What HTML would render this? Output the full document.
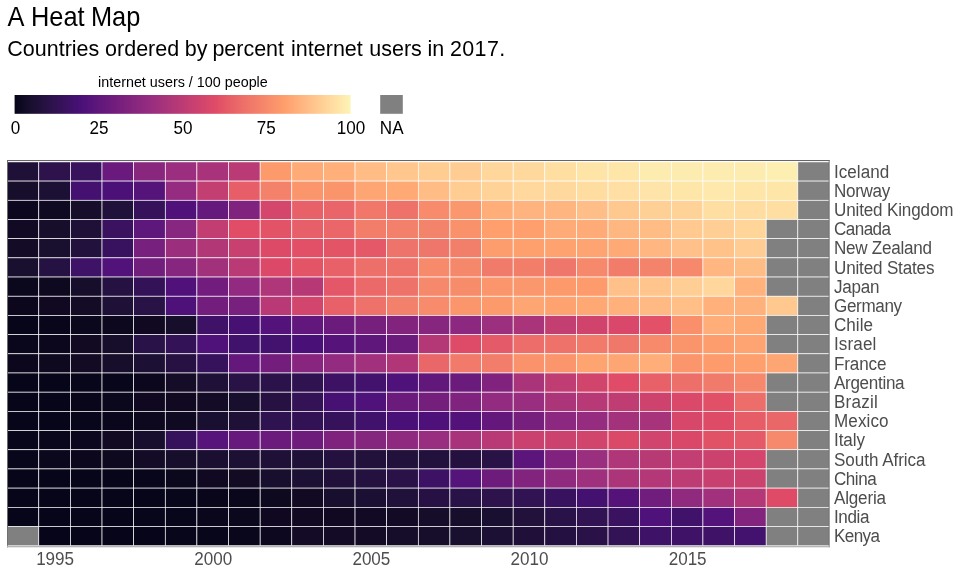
<!DOCTYPE html>
<html><head><meta charset="utf-8"><title>A Heat Map</title>
<style>
html,body{margin:0;padding:0;background:#fff;}
body{width:960px;height:576px;overflow:hidden;}
svg{display:block;}
text{font-family:"Liberation Sans",sans-serif;}
</style></head><body>
<svg width="960" height="576" viewBox="0 0 960 576">
<rect x="0" y="0" width="960" height="576" fill="#ffffff"/>
<text transform="translate(0,25.9) scale(1,1.055)" font-size="25.4px" fill="#000"><tspan x="7.5">A</tspan> <tspan x="31">Heat</tspan> <tspan x="90.9">Map</tspan></text>
<text transform="translate(0,55.6) scale(1,1.055)" font-size="21.5px" fill="#000"><tspan x="7.33">Countries</tspan> <tspan x="105.1">ordered</tspan> <tspan x="184.7">by</tspan> <tspan x="212.4">percent</tspan> <tspan x="291.1">internet</tspan> <tspan x="369.3">users</tspan> <tspan x="427.4">in</tspan> <tspan x="449.9" textLength="55.4" lengthAdjust="spacing">2017.</tspan></text>
<text transform="translate(182.90,86.60) scale(1,1.04)" font-size="14.35px" fill="#000" text-anchor="middle">internet users / 100 people</text>
<defs><linearGradient id="g" x1="0" x2="1" y1="0" y2="0"><stop offset="0.0000" stop-color="#06051a"/><stop offset="0.0500" stop-color="#190f2f"/><stop offset="0.1000" stop-color="#291246"/><stop offset="0.1500" stop-color="#39125f"/><stop offset="0.2000" stop-color="#4a1079"/><stop offset="0.2500" stop-color="#5f177b"/><stop offset="0.3000" stop-color="#721d7d"/><stop offset="0.3500" stop-color="#84257e"/><stop offset="0.4000" stop-color="#962c80"/><stop offset="0.4500" stop-color="#a9347a"/><stop offset="0.5000" stop-color="#bc3b74"/><stop offset="0.5500" stop-color="#ce436e"/><stop offset="0.6000" stop-color="#e04c67"/><stop offset="0.6500" stop-color="#e86268"/><stop offset="0.7000" stop-color="#f0776a"/><stop offset="0.7500" stop-color="#f78a6b"/><stop offset="0.8000" stop-color="#fe9d6c"/><stop offset="0.8500" stop-color="#ffb37e"/><stop offset="0.9000" stop-color="#ffc990"/><stop offset="0.9500" stop-color="#ffdea3"/><stop offset="1.0000" stop-color="#fcf4b6"/></linearGradient></defs>
<rect x="14.6" y="95" width="336" height="18.8" fill="url(#g)"/>
<rect x="380.2" y="95" width="22.6" height="18.8" fill="#808080"/>
<text transform="translate(15.60,133.90) scale(1,1.055)" font-size="17.07px" fill="#000" text-anchor="middle">0</text>
<text transform="translate(99.10,133.90) scale(1,1.055)" font-size="17.07px" fill="#000" text-anchor="middle">25</text>
<text transform="translate(183.10,133.90) scale(1,1.055)" font-size="17.07px" fill="#000" text-anchor="middle">50</text>
<text transform="translate(266.30,133.90) scale(1,1.055)" font-size="17.07px" fill="#000" text-anchor="middle">75</text>
<text transform="translate(351.00,133.90) scale(1,1.055)" font-size="17.07px" fill="#000" text-anchor="middle">100</text>
<text transform="translate(391.70,133.90) scale(1,1.055)" font-size="17.07px" fill="#000" text-anchor="middle">NA</text>
<rect x="7" y="160" width="822.5" height="387.4" fill="#ffffff"/>
<g stroke="#ffffff" stroke-width="0.65">
<rect x="7.15" y="161.90" width="31.63" height="19.19" fill="#1f1037"/><rect x="38.78" y="161.90" width="31.63" height="19.19" fill="#2d124c"/><rect x="70.40" y="161.90" width="31.63" height="19.19" fill="#39125e"/><rect x="102.03" y="161.90" width="31.63" height="19.19" fill="#691a7c"/><rect x="133.66" y="161.90" width="31.63" height="19.19" fill="#89277f"/><rect x="165.28" y="161.90" width="31.63" height="19.19" fill="#9b2e7f"/><rect x="196.91" y="161.90" width="31.63" height="19.19" fill="#a8337b"/><rect x="228.54" y="161.90" width="31.63" height="19.19" fill="#ba3a75"/><rect x="260.17" y="161.90" width="31.63" height="19.19" fill="#fc9a6c"/><rect x="291.79" y="161.90" width="31.63" height="19.19" fill="#ffab77"/><rect x="323.42" y="161.90" width="31.63" height="19.19" fill="#ffaf7a"/><rect x="355.05" y="161.90" width="31.63" height="19.19" fill="#ffbc85"/><rect x="386.67" y="161.90" width="31.63" height="19.19" fill="#ffc78e"/><rect x="418.30" y="161.90" width="31.63" height="19.19" fill="#ffcc92"/><rect x="449.93" y="161.90" width="31.63" height="19.19" fill="#ffcd94"/><rect x="481.55" y="161.90" width="31.63" height="19.19" fill="#ffd69b"/><rect x="513.18" y="161.90" width="31.63" height="19.19" fill="#ffd89d"/><rect x="544.81" y="161.90" width="31.63" height="19.19" fill="#ffdea2"/><rect x="576.43" y="161.90" width="31.63" height="19.19" fill="#fee4a7"/><rect x="608.06" y="161.90" width="31.63" height="19.19" fill="#fee5a8"/><rect x="639.69" y="161.90" width="31.63" height="19.19" fill="#fdecaf"/><rect x="671.32" y="161.90" width="31.63" height="19.19" fill="#fdecaf"/><rect x="702.94" y="161.90" width="31.63" height="19.19" fill="#fdecaf"/><rect x="734.57" y="161.90" width="31.63" height="19.19" fill="#fdecaf"/><rect x="766.20" y="161.90" width="31.63" height="19.19" fill="#fdefb2"/><rect x="797.82" y="161.90" width="31.63" height="19.19" fill="#808080"/>
<rect x="7.15" y="181.09" width="31.63" height="19.19" fill="#170e2b"/><rect x="38.78" y="181.09" width="31.63" height="19.19" fill="#1d1035"/><rect x="70.40" y="181.09" width="31.63" height="19.19" fill="#441170"/><rect x="102.03" y="181.09" width="31.63" height="19.19" fill="#4c1179"/><rect x="133.66" y="181.09" width="31.63" height="19.19" fill="#55147a"/><rect x="165.28" y="181.09" width="31.63" height="19.19" fill="#962c80"/><rect x="196.91" y="181.09" width="31.63" height="19.19" fill="#c33e71"/><rect x="228.54" y="181.09" width="31.63" height="19.19" fill="#e75e68"/><rect x="260.17" y="181.09" width="31.63" height="19.19" fill="#f4826b"/><rect x="291.79" y="181.09" width="31.63" height="19.19" fill="#fb966c"/><rect x="323.42" y="181.09" width="31.63" height="19.19" fill="#fa956b"/><rect x="355.05" y="181.09" width="31.63" height="19.19" fill="#fea673"/><rect x="386.67" y="181.09" width="31.63" height="19.19" fill="#ffa975"/><rect x="418.30" y="181.09" width="31.63" height="19.19" fill="#ffbc85"/><rect x="449.93" y="181.09" width="31.63" height="19.19" fill="#ffcc92"/><rect x="481.55" y="181.09" width="31.63" height="19.19" fill="#ffd298"/><rect x="513.18" y="181.09" width="31.63" height="19.19" fill="#ffd89d"/><rect x="544.81" y="181.09" width="31.63" height="19.19" fill="#ffd89d"/><rect x="576.43" y="181.09" width="31.63" height="19.19" fill="#ffdda1"/><rect x="608.06" y="181.09" width="31.63" height="19.19" fill="#ffdfa3"/><rect x="639.69" y="181.09" width="31.63" height="19.19" fill="#fee4a8"/><rect x="671.32" y="181.09" width="31.63" height="19.19" fill="#fee6a9"/><rect x="702.94" y="181.09" width="31.63" height="19.19" fill="#fee8ab"/><rect x="734.57" y="181.09" width="31.63" height="19.19" fill="#fee5a8"/><rect x="766.20" y="181.09" width="31.63" height="19.19" fill="#fee5a8"/><rect x="797.82" y="181.09" width="31.63" height="19.19" fill="#808080"/>
<rect x="7.15" y="200.28" width="31.63" height="19.19" fill="#0c071e"/><rect x="38.78" y="200.28" width="31.63" height="19.19" fill="#100922"/><rect x="70.40" y="200.28" width="31.63" height="19.19" fill="#170e2b"/><rect x="102.03" y="200.28" width="31.63" height="19.19" fill="#20113a"/><rect x="133.66" y="200.28" width="31.63" height="19.19" fill="#351259"/><rect x="165.28" y="200.28" width="31.63" height="19.19" fill="#50127a"/><rect x="196.91" y="200.28" width="31.63" height="19.19" fill="#66197c"/><rect x="228.54" y="200.28" width="31.63" height="19.19" fill="#7f237e"/><rect x="260.17" y="200.28" width="31.63" height="19.19" fill="#d4466c"/><rect x="291.79" y="200.28" width="31.63" height="19.19" fill="#e86168"/><rect x="323.42" y="200.28" width="31.63" height="19.19" fill="#e96569"/><rect x="355.05" y="200.28" width="31.63" height="19.19" fill="#f0776a"/><rect x="386.67" y="200.28" width="31.63" height="19.19" fill="#ee726a"/><rect x="418.30" y="200.28" width="31.63" height="19.19" fill="#f78b6b"/><rect x="449.93" y="200.28" width="31.63" height="19.19" fill="#fb976c"/><rect x="481.55" y="200.28" width="31.63" height="19.19" fill="#ffad79"/><rect x="513.18" y="200.28" width="31.63" height="19.19" fill="#ffb37e"/><rect x="544.81" y="200.28" width="31.63" height="19.19" fill="#ffb57f"/><rect x="576.43" y="200.28" width="31.63" height="19.19" fill="#ffbe87"/><rect x="608.06" y="200.28" width="31.63" height="19.19" fill="#ffc88f"/><rect x="639.69" y="200.28" width="31.63" height="19.19" fill="#ffd096"/><rect x="671.32" y="200.28" width="31.63" height="19.19" fill="#ffd297"/><rect x="702.94" y="200.28" width="31.63" height="19.19" fill="#ffdea2"/><rect x="734.57" y="200.28" width="31.63" height="19.19" fill="#ffdda1"/><rect x="766.20" y="200.28" width="31.63" height="19.19" fill="#ffdea2"/><rect x="797.82" y="200.28" width="31.63" height="19.19" fill="#808080"/>
<rect x="7.15" y="219.47" width="31.63" height="19.19" fill="#120a24"/><rect x="38.78" y="219.47" width="31.63" height="19.19" fill="#170e2b"/><rect x="70.40" y="219.47" width="31.63" height="19.19" fill="#1f1037"/><rect x="102.03" y="219.47" width="31.63" height="19.19" fill="#3a1260"/><rect x="133.66" y="219.47" width="31.63" height="19.19" fill="#5e177b"/><rect x="165.28" y="219.47" width="31.63" height="19.19" fill="#88277f"/><rect x="196.91" y="219.47" width="31.63" height="19.19" fill="#c13d72"/><rect x="228.54" y="219.47" width="31.63" height="19.19" fill="#e14c67"/><rect x="260.17" y="219.47" width="31.63" height="19.19" fill="#e35367"/><rect x="291.79" y="219.47" width="31.63" height="19.19" fill="#e75f68"/><rect x="323.42" y="219.47" width="31.63" height="19.19" fill="#ea6669"/><rect x="355.05" y="219.47" width="31.63" height="19.19" fill="#f27e6a"/><rect x="386.67" y="219.47" width="31.63" height="19.19" fill="#f3806a"/><rect x="418.30" y="219.47" width="31.63" height="19.19" fill="#f4836b"/><rect x="449.93" y="219.47" width="31.63" height="19.19" fill="#f9916b"/><rect x="481.55" y="219.47" width="31.63" height="19.19" fill="#fe9f6d"/><rect x="513.18" y="219.47" width="31.63" height="19.19" fill="#fe9f6d"/><rect x="544.81" y="219.47" width="31.63" height="19.19" fill="#ffab77"/><rect x="576.43" y="219.47" width="31.63" height="19.19" fill="#ffab77"/><rect x="608.06" y="219.47" width="31.63" height="19.19" fill="#ffb781"/><rect x="639.69" y="219.47" width="31.63" height="19.19" fill="#ffbd85"/><rect x="671.32" y="219.47" width="31.63" height="19.19" fill="#ffc990"/><rect x="702.94" y="219.47" width="31.63" height="19.19" fill="#ffce94"/><rect x="734.57" y="219.47" width="31.63" height="19.19" fill="#ffd59a"/><rect x="766.20" y="219.47" width="31.63" height="19.19" fill="#808080"/><rect x="797.82" y="219.47" width="31.63" height="19.19" fill="#808080"/>
<rect x="7.15" y="238.66" width="31.63" height="19.19" fill="#140c27"/><rect x="38.78" y="238.66" width="31.63" height="19.19" fill="#190f2f"/><rect x="70.40" y="238.66" width="31.63" height="19.19" fill="#23113d"/><rect x="102.03" y="238.66" width="31.63" height="19.19" fill="#38125e"/><rect x="133.66" y="238.66" width="31.63" height="19.19" fill="#78207d"/><rect x="165.28" y="238.66" width="31.63" height="19.19" fill="#9c2e7e"/><rect x="196.91" y="238.66" width="31.63" height="19.19" fill="#b23777"/><rect x="228.54" y="238.66" width="31.63" height="19.19" fill="#c84070"/><rect x="260.17" y="238.66" width="31.63" height="19.19" fill="#dd4a68"/><rect x="291.79" y="238.66" width="31.63" height="19.19" fill="#e25067"/><rect x="323.42" y="238.66" width="31.63" height="19.19" fill="#e35467"/><rect x="355.05" y="238.66" width="31.63" height="19.19" fill="#e55868"/><rect x="386.67" y="238.66" width="31.63" height="19.19" fill="#ee736a"/><rect x="418.30" y="238.66" width="31.63" height="19.19" fill="#ef766a"/><rect x="449.93" y="238.66" width="31.63" height="19.19" fill="#f27f6a"/><rect x="481.55" y="238.66" width="31.63" height="19.19" fill="#fd9c6c"/><rect x="513.18" y="238.66" width="31.63" height="19.19" fill="#fea06e"/><rect x="544.81" y="238.66" width="31.63" height="19.19" fill="#fea370"/><rect x="576.43" y="238.66" width="31.63" height="19.19" fill="#fea472"/><rect x="608.06" y="238.66" width="31.63" height="19.19" fill="#ffaa76"/><rect x="639.69" y="238.66" width="31.63" height="19.19" fill="#ffb680"/><rect x="671.32" y="238.66" width="31.63" height="19.19" fill="#ffc189"/><rect x="702.94" y="238.66" width="31.63" height="19.19" fill="#ffc38a"/><rect x="734.57" y="238.66" width="31.63" height="19.19" fill="#ffcc93"/><rect x="766.20" y="238.66" width="31.63" height="19.19" fill="#808080"/><rect x="797.82" y="238.66" width="31.63" height="19.19" fill="#808080"/>
<rect x="7.15" y="257.85" width="31.63" height="19.19" fill="#190f2f"/><rect x="38.78" y="257.85" width="31.63" height="19.19" fill="#261143"/><rect x="70.40" y="257.85" width="31.63" height="19.19" fill="#3e1266"/><rect x="102.03" y="257.85" width="31.63" height="19.19" fill="#51127a"/><rect x="133.66" y="257.85" width="31.63" height="19.19" fill="#721e7d"/><rect x="165.28" y="257.85" width="31.63" height="19.19" fill="#87267f"/><rect x="196.91" y="257.85" width="31.63" height="19.19" fill="#a2317c"/><rect x="228.54" y="257.85" width="31.63" height="19.19" fill="#b93a75"/><rect x="260.17" y="257.85" width="31.63" height="19.19" fill="#dc4968"/><rect x="291.79" y="257.85" width="31.63" height="19.19" fill="#e35467"/><rect x="323.42" y="257.85" width="31.63" height="19.19" fill="#e86168"/><rect x="355.05" y="257.85" width="31.63" height="19.19" fill="#ed6f69"/><rect x="386.67" y="257.85" width="31.63" height="19.19" fill="#ee726a"/><rect x="418.30" y="257.85" width="31.63" height="19.19" fill="#f78a6b"/><rect x="449.93" y="257.85" width="31.63" height="19.19" fill="#f5876b"/><rect x="481.55" y="257.85" width="31.63" height="19.19" fill="#f17b6a"/><rect x="513.18" y="257.85" width="31.63" height="19.19" fill="#f27e6a"/><rect x="544.81" y="257.85" width="31.63" height="19.19" fill="#ef766a"/><rect x="576.43" y="257.85" width="31.63" height="19.19" fill="#f6896b"/><rect x="608.06" y="257.85" width="31.63" height="19.19" fill="#f27c6a"/><rect x="639.69" y="257.85" width="31.63" height="19.19" fill="#f4836b"/><rect x="671.32" y="257.85" width="31.63" height="19.19" fill="#f6896b"/><rect x="702.94" y="257.85" width="31.63" height="19.19" fill="#ffb680"/><rect x="734.57" y="257.85" width="31.63" height="19.19" fill="#ffbd86"/><rect x="766.20" y="257.85" width="31.63" height="19.19" fill="#808080"/><rect x="797.82" y="257.85" width="31.63" height="19.19" fill="#808080"/>
<rect x="7.15" y="277.04" width="31.63" height="19.19" fill="#0b071d"/><rect x="38.78" y="277.04" width="31.63" height="19.19" fill="#0f0920"/><rect x="70.40" y="277.04" width="31.63" height="19.19" fill="#170e2c"/><rect x="102.03" y="277.04" width="31.63" height="19.19" fill="#261143"/><rect x="133.66" y="277.04" width="31.63" height="19.19" fill="#341257"/><rect x="165.28" y="277.04" width="31.63" height="19.19" fill="#50127a"/><rect x="196.91" y="277.04" width="31.63" height="19.19" fill="#721d7d"/><rect x="228.54" y="277.04" width="31.63" height="19.19" fill="#912a80"/><rect x="260.17" y="277.04" width="31.63" height="19.19" fill="#af3678"/><rect x="291.79" y="277.04" width="31.63" height="19.19" fill="#b63976"/><rect x="323.42" y="277.04" width="31.63" height="19.19" fill="#e45768"/><rect x="355.05" y="277.04" width="31.63" height="19.19" fill="#eb6a69"/><rect x="386.67" y="277.04" width="31.63" height="19.19" fill="#ee726a"/><rect x="418.30" y="277.04" width="31.63" height="19.19" fill="#f6886b"/><rect x="449.93" y="277.04" width="31.63" height="19.19" fill="#f78c6b"/><rect x="481.55" y="277.04" width="31.63" height="19.19" fill="#fb966c"/><rect x="513.18" y="277.04" width="31.63" height="19.19" fill="#fb976c"/><rect x="544.81" y="277.04" width="31.63" height="19.19" fill="#fc9a6c"/><rect x="576.43" y="277.04" width="31.63" height="19.19" fill="#fd9b6c"/><rect x="608.06" y="277.04" width="31.63" height="19.19" fill="#ffc189"/><rect x="639.69" y="277.04" width="31.63" height="19.19" fill="#ffc58d"/><rect x="671.32" y="277.04" width="31.63" height="19.19" fill="#ffce94"/><rect x="702.94" y="277.04" width="31.63" height="19.19" fill="#ffd79c"/><rect x="734.57" y="277.04" width="31.63" height="19.19" fill="#ffb27c"/><rect x="766.20" y="277.04" width="31.63" height="19.19" fill="#808080"/><rect x="797.82" y="277.04" width="31.63" height="19.19" fill="#808080"/>
<rect x="7.15" y="296.23" width="31.63" height="19.19" fill="#0c071d"/><rect x="38.78" y="296.23" width="31.63" height="19.19" fill="#100921"/><rect x="70.40" y="296.23" width="31.63" height="19.19" fill="#140c27"/><rect x="102.03" y="296.23" width="31.63" height="19.19" fill="#1e1037"/><rect x="133.66" y="296.23" width="31.63" height="19.19" fill="#281246"/><rect x="165.28" y="296.23" width="31.63" height="19.19" fill="#4e117a"/><rect x="196.91" y="296.23" width="31.63" height="19.19" fill="#731e7d"/><rect x="228.54" y="296.23" width="31.63" height="19.19" fill="#78207d"/><rect x="260.17" y="296.23" width="31.63" height="19.19" fill="#b83975"/><rect x="291.79" y="296.23" width="31.63" height="19.19" fill="#d2456c"/><rect x="323.42" y="296.23" width="31.63" height="19.19" fill="#e86168"/><rect x="355.05" y="296.23" width="31.63" height="19.19" fill="#ee726a"/><rect x="386.67" y="296.23" width="31.63" height="19.19" fill="#f3806a"/><rect x="418.30" y="296.23" width="31.63" height="19.19" fill="#f78b6b"/><rect x="449.93" y="296.23" width="31.63" height="19.19" fill="#fb966c"/><rect x="481.55" y="296.23" width="31.63" height="19.19" fill="#fc9a6c"/><rect x="513.18" y="296.23" width="31.63" height="19.19" fill="#fea673"/><rect x="544.81" y="296.23" width="31.63" height="19.19" fill="#fea370"/><rect x="576.43" y="296.23" width="31.63" height="19.19" fill="#fea874"/><rect x="608.06" y="296.23" width="31.63" height="19.19" fill="#ffb07b"/><rect x="639.69" y="296.23" width="31.63" height="19.19" fill="#ffb982"/><rect x="671.32" y="296.23" width="31.63" height="19.19" fill="#ffbf87"/><rect x="702.94" y="296.23" width="31.63" height="19.19" fill="#ffb07b"/><rect x="734.57" y="296.23" width="31.63" height="19.19" fill="#ffb17c"/><rect x="766.20" y="296.23" width="31.63" height="19.19" fill="#ffc88f"/><rect x="797.82" y="296.23" width="31.63" height="19.19" fill="#808080"/>
<rect x="7.15" y="315.42" width="31.63" height="19.19" fill="#07051a"/><rect x="38.78" y="315.42" width="31.63" height="19.19" fill="#09061b"/><rect x="70.40" y="315.42" width="31.63" height="19.19" fill="#0b071d"/><rect x="102.03" y="315.42" width="31.63" height="19.19" fill="#0d081e"/><rect x="133.66" y="315.42" width="31.63" height="19.19" fill="#100921"/><rect x="165.28" y="315.42" width="31.63" height="19.19" fill="#170e2b"/><rect x="196.91" y="315.42" width="31.63" height="19.19" fill="#3f1267"/><rect x="228.54" y="315.42" width="31.63" height="19.19" fill="#471174"/><rect x="260.17" y="315.42" width="31.63" height="19.19" fill="#53137a"/><rect x="291.79" y="315.42" width="31.63" height="19.19" fill="#61177b"/><rect x="323.42" y="315.42" width="31.63" height="19.19" fill="#6b1b7c"/><rect x="355.05" y="315.42" width="31.63" height="19.19" fill="#761f7d"/><rect x="386.67" y="315.42" width="31.63" height="19.19" fill="#82247e"/><rect x="418.30" y="315.42" width="31.63" height="19.19" fill="#87267f"/><rect x="449.93" y="315.42" width="31.63" height="19.19" fill="#8c287f"/><rect x="481.55" y="315.42" width="31.63" height="19.19" fill="#9c2f7e"/><rect x="513.18" y="315.42" width="31.63" height="19.19" fill="#a9347a"/><rect x="544.81" y="315.42" width="31.63" height="19.19" fill="#c43f71"/><rect x="576.43" y="315.42" width="31.63" height="19.19" fill="#cf436d"/><rect x="608.06" y="315.42" width="31.63" height="19.19" fill="#d9486a"/><rect x="639.69" y="315.42" width="31.63" height="19.19" fill="#e25167"/><rect x="671.32" y="315.42" width="31.63" height="19.19" fill="#f9906b"/><rect x="702.94" y="315.42" width="31.63" height="19.19" fill="#ffad79"/><rect x="734.57" y="315.42" width="31.63" height="19.19" fill="#fea874"/><rect x="766.20" y="315.42" width="31.63" height="19.19" fill="#808080"/><rect x="797.82" y="315.42" width="31.63" height="19.19" fill="#808080"/>
<rect x="7.15" y="334.61" width="31.63" height="19.19" fill="#0a071c"/><rect x="38.78" y="334.61" width="31.63" height="19.19" fill="#0c071d"/><rect x="70.40" y="334.61" width="31.63" height="19.19" fill="#110a22"/><rect x="102.03" y="334.61" width="31.63" height="19.19" fill="#170e2c"/><rect x="133.66" y="334.61" width="31.63" height="19.19" fill="#291247"/><rect x="165.28" y="334.61" width="31.63" height="19.19" fill="#341257"/><rect x="196.91" y="334.61" width="31.63" height="19.19" fill="#4e127a"/><rect x="228.54" y="334.61" width="31.63" height="19.19" fill="#41126c"/><rect x="260.17" y="334.61" width="31.63" height="19.19" fill="#43126e"/><rect x="291.79" y="334.61" width="31.63" height="19.19" fill="#491177"/><rect x="323.42" y="334.61" width="31.63" height="19.19" fill="#56147a"/><rect x="355.05" y="334.61" width="31.63" height="19.19" fill="#60177b"/><rect x="386.67" y="334.61" width="31.63" height="19.19" fill="#6a1b7c"/><rect x="418.30" y="334.61" width="31.63" height="19.19" fill="#b53876"/><rect x="449.93" y="334.61" width="31.63" height="19.19" fill="#de4b68"/><rect x="481.55" y="334.61" width="31.63" height="19.19" fill="#e55a68"/><rect x="513.18" y="334.61" width="31.63" height="19.19" fill="#ec6d69"/><rect x="544.81" y="334.61" width="31.63" height="19.19" fill="#ee726a"/><rect x="576.43" y="334.61" width="31.63" height="19.19" fill="#f17a6a"/><rect x="608.06" y="334.61" width="31.63" height="19.19" fill="#f0786a"/><rect x="639.69" y="334.61" width="31.63" height="19.19" fill="#f78a6b"/><rect x="671.32" y="334.61" width="31.63" height="19.19" fill="#fa946b"/><rect x="702.94" y="334.61" width="31.63" height="19.19" fill="#fd9c6c"/><rect x="734.57" y="334.61" width="31.63" height="19.19" fill="#fea472"/><rect x="766.20" y="334.61" width="31.63" height="19.19" fill="#808080"/><rect x="797.82" y="334.61" width="31.63" height="19.19" fill="#808080"/>
<rect x="7.15" y="353.80" width="31.63" height="19.19" fill="#0c071d"/><rect x="38.78" y="353.80" width="31.63" height="19.19" fill="#0f0920"/><rect x="70.40" y="353.80" width="31.63" height="19.19" fill="#130b24"/><rect x="102.03" y="353.80" width="31.63" height="19.19" fill="#170e2c"/><rect x="133.66" y="353.80" width="31.63" height="19.19" fill="#1d1035"/><rect x="165.28" y="353.80" width="31.63" height="19.19" fill="#261142"/><rect x="196.91" y="353.80" width="31.63" height="19.19" fill="#37125c"/><rect x="228.54" y="353.80" width="31.63" height="19.19" fill="#64187c"/><rect x="260.17" y="353.80" width="31.63" height="19.19" fill="#731e7d"/><rect x="291.79" y="353.80" width="31.63" height="19.19" fill="#88267f"/><rect x="323.42" y="353.80" width="31.63" height="19.19" fill="#932b80"/><rect x="355.05" y="353.80" width="31.63" height="19.19" fill="#a1307d"/><rect x="386.67" y="353.80" width="31.63" height="19.19" fill="#b13678"/><rect x="418.30" y="353.80" width="31.63" height="19.19" fill="#ea6769"/><rect x="449.93" y="353.80" width="31.63" height="19.19" fill="#f17a6a"/><rect x="481.55" y="353.80" width="31.63" height="19.19" fill="#f27d6a"/><rect x="513.18" y="353.80" width="31.63" height="19.19" fill="#fa936b"/><rect x="544.81" y="353.80" width="31.63" height="19.19" fill="#fb956c"/><rect x="576.43" y="353.80" width="31.63" height="19.19" fill="#fea471"/><rect x="608.06" y="353.80" width="31.63" height="19.19" fill="#fea673"/><rect x="639.69" y="353.80" width="31.63" height="19.19" fill="#ffae79"/><rect x="671.32" y="353.80" width="31.63" height="19.19" fill="#fb966c"/><rect x="702.94" y="353.80" width="31.63" height="19.19" fill="#fd9b6c"/><rect x="734.57" y="353.80" width="31.63" height="19.19" fill="#fea06e"/><rect x="766.20" y="353.80" width="31.63" height="19.19" fill="#fea673"/><rect x="797.82" y="353.80" width="31.63" height="19.19" fill="#808080"/>
<rect x="7.15" y="372.99" width="31.63" height="19.19" fill="#07051a"/><rect x="38.78" y="372.99" width="31.63" height="19.19" fill="#07051a"/><rect x="70.40" y="372.99" width="31.63" height="19.19" fill="#07061a"/><rect x="102.03" y="372.99" width="31.63" height="19.19" fill="#08061b"/><rect x="133.66" y="372.99" width="31.63" height="19.19" fill="#0c071d"/><rect x="165.28" y="372.99" width="31.63" height="19.19" fill="#150c28"/><rect x="196.91" y="372.99" width="31.63" height="19.19" fill="#1f1038"/><rect x="228.54" y="372.99" width="31.63" height="19.19" fill="#281246"/><rect x="260.17" y="372.99" width="31.63" height="19.19" fill="#2c124b"/><rect x="291.79" y="372.99" width="31.63" height="19.19" fill="#2f1250"/><rect x="323.42" y="372.99" width="31.63" height="19.19" fill="#3d1264"/><rect x="355.05" y="372.99" width="31.63" height="19.19" fill="#42126d"/><rect x="386.67" y="372.99" width="31.63" height="19.19" fill="#4e127a"/><rect x="418.30" y="372.99" width="31.63" height="19.19" fill="#62187b"/><rect x="449.93" y="372.99" width="31.63" height="19.19" fill="#6b1b7c"/><rect x="481.55" y="372.99" width="31.63" height="19.19" fill="#81237e"/><rect x="513.18" y="372.99" width="31.63" height="19.19" fill="#a9347a"/><rect x="544.81" y="372.99" width="31.63" height="19.19" fill="#c03d73"/><rect x="576.43" y="372.99" width="31.63" height="19.19" fill="#d1456d"/><rect x="608.06" y="372.99" width="31.63" height="19.19" fill="#e04b67"/><rect x="639.69" y="372.99" width="31.63" height="19.19" fill="#e86168"/><rect x="671.32" y="372.99" width="31.63" height="19.19" fill="#ed6f69"/><rect x="702.94" y="372.99" width="31.63" height="19.19" fill="#f17b6a"/><rect x="734.57" y="372.99" width="31.63" height="19.19" fill="#f6886b"/><rect x="766.20" y="372.99" width="31.63" height="19.19" fill="#808080"/><rect x="797.82" y="372.99" width="31.63" height="19.19" fill="#808080"/>
<rect x="7.15" y="392.18" width="31.63" height="19.19" fill="#07051a"/><rect x="38.78" y="392.18" width="31.63" height="19.19" fill="#07051a"/><rect x="70.40" y="392.18" width="31.63" height="19.19" fill="#09061b"/><rect x="102.03" y="392.18" width="31.63" height="19.19" fill="#0b071d"/><rect x="133.66" y="392.18" width="31.63" height="19.19" fill="#0f0820"/><rect x="165.28" y="392.18" width="31.63" height="19.19" fill="#110922"/><rect x="196.91" y="392.18" width="31.63" height="19.19" fill="#140b26"/><rect x="228.54" y="392.18" width="31.63" height="19.19" fill="#180e2d"/><rect x="260.17" y="392.18" width="31.63" height="19.19" fill="#261142"/><rect x="291.79" y="392.18" width="31.63" height="19.19" fill="#331256"/><rect x="323.42" y="392.18" width="31.63" height="19.19" fill="#471174"/><rect x="355.05" y="392.18" width="31.63" height="19.19" fill="#4f127a"/><rect x="386.67" y="392.18" width="31.63" height="19.19" fill="#6b1b7c"/><rect x="418.30" y="392.18" width="31.63" height="19.19" fill="#751f7d"/><rect x="449.93" y="392.18" width="31.63" height="19.19" fill="#80237e"/><rect x="481.55" y="392.18" width="31.63" height="19.19" fill="#932b80"/><rect x="513.18" y="392.18" width="31.63" height="19.19" fill="#992d7f"/><rect x="544.81" y="392.18" width="31.63" height="19.19" fill="#ac3579"/><rect x="576.43" y="392.18" width="31.63" height="19.19" fill="#b73976"/><rect x="608.06" y="392.18" width="31.63" height="19.19" fill="#c03d73"/><rect x="639.69" y="392.18" width="31.63" height="19.19" fill="#cd436e"/><rect x="671.32" y="392.18" width="31.63" height="19.19" fill="#da4969"/><rect x="702.94" y="392.18" width="31.63" height="19.19" fill="#e25067"/><rect x="734.57" y="392.18" width="31.63" height="19.19" fill="#ec6d69"/><rect x="766.20" y="392.18" width="31.63" height="19.19" fill="#808080"/><rect x="797.82" y="392.18" width="31.63" height="19.19" fill="#808080"/>
<rect x="7.15" y="411.37" width="31.63" height="19.19" fill="#07051a"/><rect x="38.78" y="411.37" width="31.63" height="19.19" fill="#07051a"/><rect x="70.40" y="411.37" width="31.63" height="19.19" fill="#08061a"/><rect x="102.03" y="411.37" width="31.63" height="19.19" fill="#0a071c"/><rect x="133.66" y="411.37" width="31.63" height="19.19" fill="#0e081f"/><rect x="165.28" y="411.37" width="31.63" height="19.19" fill="#100922"/><rect x="196.91" y="411.37" width="31.63" height="19.19" fill="#190f30"/><rect x="228.54" y="411.37" width="31.63" height="19.19" fill="#1f1038"/><rect x="260.17" y="411.37" width="31.63" height="19.19" fill="#2f1250"/><rect x="291.79" y="411.37" width="31.63" height="19.19" fill="#321255"/><rect x="323.42" y="411.37" width="31.63" height="19.19" fill="#36125b"/><rect x="355.05" y="411.37" width="31.63" height="19.19" fill="#41126b"/><rect x="386.67" y="411.37" width="31.63" height="19.19" fill="#491177"/><rect x="418.30" y="411.37" width="31.63" height="19.19" fill="#4e117a"/><rect x="449.93" y="411.37" width="31.63" height="19.19" fill="#52127a"/><rect x="481.55" y="411.37" width="31.63" height="19.19" fill="#64187c"/><rect x="513.18" y="411.37" width="31.63" height="19.19" fill="#761f7d"/><rect x="544.81" y="411.37" width="31.63" height="19.19" fill="#8c287f"/><rect x="576.43" y="411.37" width="31.63" height="19.19" fill="#952c80"/><rect x="608.06" y="411.37" width="31.63" height="19.19" fill="#a4317c"/><rect x="639.69" y="411.37" width="31.63" height="19.19" fill="#a7337b"/><rect x="671.32" y="411.37" width="31.63" height="19.19" fill="#d7476a"/><rect x="702.94" y="411.37" width="31.63" height="19.19" fill="#de4b67"/><rect x="734.57" y="411.37" width="31.63" height="19.19" fill="#e65d68"/><rect x="766.20" y="411.37" width="31.63" height="19.19" fill="#e96669"/><rect x="797.82" y="411.37" width="31.63" height="19.19" fill="#808080"/>
<rect x="7.15" y="430.56" width="31.63" height="19.19" fill="#08061a"/><rect x="38.78" y="430.56" width="31.63" height="19.19" fill="#0a061c"/><rect x="70.40" y="430.56" width="31.63" height="19.19" fill="#0c071e"/><rect x="102.03" y="430.56" width="31.63" height="19.19" fill="#120a23"/><rect x="133.66" y="430.56" width="31.63" height="19.19" fill="#180e2d"/><rect x="165.28" y="430.56" width="31.63" height="19.19" fill="#37125c"/><rect x="196.91" y="430.56" width="31.63" height="19.19" fill="#57147a"/><rect x="228.54" y="430.56" width="31.63" height="19.19" fill="#671a7c"/><rect x="260.17" y="430.56" width="31.63" height="19.19" fill="#6a1b7c"/><rect x="291.79" y="430.56" width="31.63" height="19.19" fill="#6e1c7c"/><rect x="323.42" y="430.56" width="31.63" height="19.19" fill="#7e227e"/><rect x="355.05" y="430.56" width="31.63" height="19.19" fill="#84257e"/><rect x="386.67" y="430.56" width="31.63" height="19.19" fill="#8f297f"/><rect x="418.30" y="430.56" width="31.63" height="19.19" fill="#992d7f"/><rect x="449.93" y="430.56" width="31.63" height="19.19" fill="#a8337b"/><rect x="481.55" y="430.56" width="31.63" height="19.19" fill="#b83975"/><rect x="513.18" y="430.56" width="31.63" height="19.19" fill="#ca416f"/><rect x="544.81" y="430.56" width="31.63" height="19.19" fill="#cc426e"/><rect x="576.43" y="430.56" width="31.63" height="19.19" fill="#d1456d"/><rect x="608.06" y="430.56" width="31.63" height="19.19" fill="#db4969"/><rect x="639.69" y="430.56" width="31.63" height="19.19" fill="#d1446d"/><rect x="671.32" y="430.56" width="31.63" height="19.19" fill="#d94869"/><rect x="702.94" y="430.56" width="31.63" height="19.19" fill="#e25267"/><rect x="734.57" y="430.56" width="31.63" height="19.19" fill="#e55a68"/><rect x="766.20" y="430.56" width="31.63" height="19.19" fill="#f6886b"/><rect x="797.82" y="430.56" width="31.63" height="19.19" fill="#808080"/>
<rect x="7.15" y="449.75" width="31.63" height="19.19" fill="#08061b"/><rect x="38.78" y="449.75" width="31.63" height="19.19" fill="#0b071c"/><rect x="70.40" y="449.75" width="31.63" height="19.19" fill="#0c071d"/><rect x="102.03" y="449.75" width="31.63" height="19.19" fill="#0f0920"/><rect x="133.66" y="449.75" width="31.63" height="19.19" fill="#140b26"/><rect x="165.28" y="449.75" width="31.63" height="19.19" fill="#170e2b"/><rect x="196.91" y="449.75" width="31.63" height="19.19" fill="#1a0f30"/><rect x="228.54" y="449.75" width="31.63" height="19.19" fill="#1d1035"/><rect x="260.17" y="449.75" width="31.63" height="19.19" fill="#1e1037"/><rect x="291.79" y="449.75" width="31.63" height="19.19" fill="#1f1038"/><rect x="323.42" y="449.75" width="31.63" height="19.19" fill="#24113f"/><rect x="355.05" y="449.75" width="31.63" height="19.19" fill="#21113b"/><rect x="386.67" y="449.75" width="31.63" height="19.19" fill="#21113b"/><rect x="418.30" y="449.75" width="31.63" height="19.19" fill="#23113d"/><rect x="449.93" y="449.75" width="31.63" height="19.19" fill="#24113f"/><rect x="481.55" y="449.75" width="31.63" height="19.19" fill="#291246"/><rect x="513.18" y="449.75" width="31.63" height="19.19" fill="#5b157b"/><rect x="544.81" y="449.75" width="31.63" height="19.19" fill="#81237e"/><rect x="576.43" y="449.75" width="31.63" height="19.19" fill="#9a2e7f"/><rect x="608.06" y="449.75" width="31.63" height="19.19" fill="#af3678"/><rect x="639.69" y="449.75" width="31.63" height="19.19" fill="#b83a75"/><rect x="671.32" y="449.75" width="31.63" height="19.19" fill="#c33e72"/><rect x="702.94" y="449.75" width="31.63" height="19.19" fill="#cb426f"/><rect x="734.57" y="449.75" width="31.63" height="19.19" fill="#d3456c"/><rect x="766.20" y="449.75" width="31.63" height="19.19" fill="#808080"/><rect x="797.82" y="449.75" width="31.63" height="19.19" fill="#808080"/>
<rect x="7.15" y="468.94" width="31.63" height="19.19" fill="#06051a"/><rect x="38.78" y="468.94" width="31.63" height="19.19" fill="#06051a"/><rect x="70.40" y="468.94" width="31.63" height="19.19" fill="#06051a"/><rect x="102.03" y="468.94" width="31.63" height="19.19" fill="#07051a"/><rect x="133.66" y="468.94" width="31.63" height="19.19" fill="#07061a"/><rect x="165.28" y="468.94" width="31.63" height="19.19" fill="#0b071d"/><rect x="196.91" y="468.94" width="31.63" height="19.19" fill="#100921"/><rect x="228.54" y="468.94" width="31.63" height="19.19" fill="#130b24"/><rect x="260.17" y="468.94" width="31.63" height="19.19" fill="#180e2d"/><rect x="291.79" y="468.94" width="31.63" height="19.19" fill="#1d1035"/><rect x="323.42" y="468.94" width="31.63" height="19.19" fill="#20103a"/><rect x="355.05" y="468.94" width="31.63" height="19.19" fill="#24113f"/><rect x="386.67" y="468.94" width="31.63" height="19.19" fill="#2a1249"/><rect x="418.30" y="468.94" width="31.63" height="19.19" fill="#3d1264"/><rect x="449.93" y="468.94" width="31.63" height="19.19" fill="#55147a"/><rect x="481.55" y="468.94" width="31.63" height="19.19" fill="#6e1c7c"/><rect x="513.18" y="468.94" width="31.63" height="19.19" fill="#82247e"/><rect x="544.81" y="468.94" width="31.63" height="19.19" fill="#902a7f"/><rect x="576.43" y="468.94" width="31.63" height="19.19" fill="#9f307d"/><rect x="608.06" y="468.94" width="31.63" height="19.19" fill="#ac3579"/><rect x="639.69" y="468.94" width="31.63" height="19.19" fill="#b43877"/><rect x="671.32" y="468.94" width="31.63" height="19.19" fill="#bd3c74"/><rect x="702.94" y="468.94" width="31.63" height="19.19" fill="#c84070"/><rect x="734.57" y="468.94" width="31.63" height="19.19" fill="#cc426e"/><rect x="766.20" y="468.94" width="31.63" height="19.19" fill="#808080"/><rect x="797.82" y="468.94" width="31.63" height="19.19" fill="#808080"/>
<rect x="7.15" y="488.13" width="31.63" height="19.19" fill="#06051a"/><rect x="38.78" y="488.13" width="31.63" height="19.19" fill="#06051a"/><rect x="70.40" y="488.13" width="31.63" height="19.19" fill="#06051a"/><rect x="102.03" y="488.13" width="31.63" height="19.19" fill="#06051a"/><rect x="133.66" y="488.13" width="31.63" height="19.19" fill="#06051a"/><rect x="165.28" y="488.13" width="31.63" height="19.19" fill="#08061a"/><rect x="196.91" y="488.13" width="31.63" height="19.19" fill="#09061c"/><rect x="228.54" y="488.13" width="31.63" height="19.19" fill="#0a071c"/><rect x="260.17" y="488.13" width="31.63" height="19.19" fill="#0f0920"/><rect x="291.79" y="488.13" width="31.63" height="19.19" fill="#120a23"/><rect x="323.42" y="488.13" width="31.63" height="19.19" fill="#180e2d"/><rect x="355.05" y="488.13" width="31.63" height="19.19" fill="#1b1033"/><rect x="386.67" y="488.13" width="31.63" height="19.19" fill="#20113a"/><rect x="418.30" y="488.13" width="31.63" height="19.19" fill="#271144"/><rect x="449.93" y="488.13" width="31.63" height="19.19" fill="#291247"/><rect x="481.55" y="488.13" width="31.63" height="19.19" fill="#2d124c"/><rect x="513.18" y="488.13" width="31.63" height="19.19" fill="#311253"/><rect x="544.81" y="488.13" width="31.63" height="19.19" fill="#39125f"/><rect x="576.43" y="488.13" width="31.63" height="19.19" fill="#441170"/><rect x="608.06" y="488.13" width="31.63" height="19.19" fill="#55137a"/><rect x="639.69" y="488.13" width="31.63" height="19.19" fill="#701d7d"/><rect x="671.32" y="488.13" width="31.63" height="19.19" fill="#902a7f"/><rect x="702.94" y="488.13" width="31.63" height="19.19" fill="#a1307d"/><rect x="734.57" y="488.13" width="31.63" height="19.19" fill="#b43877"/><rect x="766.20" y="488.13" width="31.63" height="19.19" fill="#df4b67"/><rect x="797.82" y="488.13" width="31.63" height="19.19" fill="#808080"/>
<rect x="7.15" y="507.32" width="31.63" height="19.19" fill="#06051a"/><rect x="38.78" y="507.32" width="31.63" height="19.19" fill="#07051a"/><rect x="70.40" y="507.32" width="31.63" height="19.19" fill="#07051a"/><rect x="102.03" y="507.32" width="31.63" height="19.19" fill="#07051a"/><rect x="133.66" y="507.32" width="31.63" height="19.19" fill="#07061a"/><rect x="165.28" y="507.32" width="31.63" height="19.19" fill="#08061b"/><rect x="196.91" y="507.32" width="31.63" height="19.19" fill="#0a061c"/><rect x="228.54" y="507.32" width="31.63" height="19.19" fill="#0b071c"/><rect x="260.17" y="507.32" width="31.63" height="19.19" fill="#0f0820"/><rect x="291.79" y="507.32" width="31.63" height="19.19" fill="#100921"/><rect x="323.42" y="507.32" width="31.63" height="19.19" fill="#110922"/><rect x="355.05" y="507.32" width="31.63" height="19.19" fill="#120a24"/><rect x="386.67" y="507.32" width="31.63" height="19.19" fill="#130b25"/><rect x="418.30" y="507.32" width="31.63" height="19.19" fill="#160d2a"/><rect x="449.93" y="507.32" width="31.63" height="19.19" fill="#170e2c"/><rect x="481.55" y="507.32" width="31.63" height="19.19" fill="#190f30"/><rect x="513.18" y="507.32" width="31.63" height="19.19" fill="#21113b"/><rect x="544.81" y="507.32" width="31.63" height="19.19" fill="#291247"/><rect x="576.43" y="507.32" width="31.63" height="19.19" fill="#311253"/><rect x="608.06" y="507.32" width="31.63" height="19.19" fill="#3a1260"/><rect x="639.69" y="507.32" width="31.63" height="19.19" fill="#4f127a"/><rect x="671.32" y="507.32" width="31.63" height="19.19" fill="#40126a"/><rect x="702.94" y="507.32" width="31.63" height="19.19" fill="#53137a"/><rect x="734.57" y="507.32" width="31.63" height="19.19" fill="#82247e"/><rect x="766.20" y="507.32" width="31.63" height="19.19" fill="#808080"/><rect x="797.82" y="507.32" width="31.63" height="19.19" fill="#808080"/>
<rect x="7.15" y="526.51" width="31.63" height="19.19" fill="#808080"/><rect x="38.78" y="526.51" width="31.63" height="19.19" fill="#06051a"/><rect x="70.40" y="526.51" width="31.63" height="19.19" fill="#06051a"/><rect x="102.03" y="526.51" width="31.63" height="19.19" fill="#07051a"/><rect x="133.66" y="526.51" width="31.63" height="19.19" fill="#07051a"/><rect x="165.28" y="526.51" width="31.63" height="19.19" fill="#07061a"/><rect x="196.91" y="526.51" width="31.63" height="19.19" fill="#08061b"/><rect x="228.54" y="526.51" width="31.63" height="19.19" fill="#0a071c"/><rect x="260.17" y="526.51" width="31.63" height="19.19" fill="#0d081f"/><rect x="291.79" y="526.51" width="31.63" height="19.19" fill="#140b26"/><rect x="323.42" y="526.51" width="31.63" height="19.19" fill="#140c26"/><rect x="355.05" y="526.51" width="31.63" height="19.19" fill="#140c27"/><rect x="386.67" y="526.51" width="31.63" height="19.19" fill="#150d29"/><rect x="418.30" y="526.51" width="31.63" height="19.19" fill="#170e2b"/><rect x="449.93" y="526.51" width="31.63" height="19.19" fill="#190f2f"/><rect x="481.55" y="526.51" width="31.63" height="19.19" fill="#1c1034"/><rect x="513.18" y="526.51" width="31.63" height="19.19" fill="#201039"/><rect x="544.81" y="526.51" width="31.63" height="19.19" fill="#251141"/><rect x="576.43" y="526.51" width="31.63" height="19.19" fill="#2a1249"/><rect x="608.06" y="526.51" width="31.63" height="19.19" fill="#331255"/><rect x="639.69" y="526.51" width="31.63" height="19.19" fill="#3e1267"/><rect x="671.32" y="526.51" width="31.63" height="19.19" fill="#3f1267"/><rect x="702.94" y="526.51" width="31.63" height="19.19" fill="#3f1267"/><rect x="734.57" y="526.51" width="31.63" height="19.19" fill="#43126e"/><rect x="766.20" y="526.51" width="31.63" height="19.19" fill="#808080"/><rect x="797.82" y="526.51" width="31.63" height="19.19" fill="#808080"/>
</g>
<rect x="7" y="160" width="822.6" height="1" fill="#666666"/>
<rect x="7" y="160" width="0.9" height="387.4" fill="#666666"/>
<rect x="828.7" y="160" width="0.9" height="387.4" fill="#6e6e6e"/>
<rect x="7" y="545.7" width="822.6" height="1.6" fill="#b4b4b4"/>
<text transform="translate(834.00,177.69) scale(1,1.055)" font-size="17.07px" fill="#4d4d4d" textLength="55.18" lengthAdjust="spacing">Iceland</text>
<text transform="translate(834.00,196.88) scale(1,1.055)" font-size="17.07px" fill="#4d4d4d" textLength="56.24" lengthAdjust="spacing">Norway</text>
<text transform="translate(834.00,216.07) scale(1,1.055)" font-size="17.07px" fill="#4d4d4d" textLength="119.43" lengthAdjust="spacing">United Kingdom</text>
<text transform="translate(834.00,235.26) scale(1,1.055)" font-size="17.07px" fill="#4d4d4d" textLength="57.02" lengthAdjust="spacing">Canada</text>
<text transform="translate(834.00,254.45) scale(1,1.055)" font-size="17.07px" fill="#4d4d4d" textLength="97.90" lengthAdjust="spacing">New Zealand</text>
<text transform="translate(834.00,273.64) scale(1,1.055)" font-size="17.07px" fill="#4d4d4d" textLength="100.44" lengthAdjust="spacing">United States</text>
<text transform="translate(834.00,292.83) scale(1,1.055)" font-size="17.07px" fill="#4d4d4d" textLength="45.50" lengthAdjust="spacing">Japan</text>
<text transform="translate(834.00,312.03) scale(1,1.055)" font-size="17.07px" fill="#4d4d4d" textLength="68.09" lengthAdjust="spacing">Germany</text>
<text transform="translate(834.00,331.21) scale(1,1.055)" font-size="17.07px" fill="#4d4d4d" textLength="38.95" lengthAdjust="spacing">Chile</text>
<text transform="translate(834.00,350.41) scale(1,1.055)" font-size="17.07px" fill="#4d4d4d" textLength="42.30" lengthAdjust="spacing">Israel</text>
<text transform="translate(834.00,369.59) scale(1,1.055)" font-size="17.07px" fill="#4d4d4d" textLength="52.53" lengthAdjust="spacing">France</text>
<text transform="translate(834.00,388.79) scale(1,1.055)" font-size="17.07px" fill="#4d4d4d" textLength="70.59" lengthAdjust="spacing">Argentina</text>
<text transform="translate(834.00,407.98) scale(1,1.055)" font-size="17.07px" fill="#4d4d4d" textLength="43.74" lengthAdjust="spacing">Brazil</text>
<text transform="translate(834.00,427.17) scale(1,1.055)" font-size="17.07px" fill="#4d4d4d" textLength="54.55" lengthAdjust="spacing">Mexico</text>
<text transform="translate(834.00,446.35) scale(1,1.055)" font-size="17.07px" fill="#4d4d4d" textLength="31.08" lengthAdjust="spacing">Italy</text>
<text transform="translate(834.00,465.55) scale(1,1.055)" font-size="17.07px" fill="#4d4d4d" textLength="91.59" lengthAdjust="spacing">South Africa</text>
<text transform="translate(834.00,484.74) scale(1,1.055)" font-size="17.07px" fill="#4d4d4d" textLength="42.70" lengthAdjust="spacing">China</text>
<text transform="translate(834.00,503.93) scale(1,1.055)" font-size="17.07px" fill="#4d4d4d" textLength="52.05" lengthAdjust="spacing">Algeria</text>
<text transform="translate(834.00,523.12) scale(1,1.055)" font-size="17.07px" fill="#4d4d4d" textLength="35.49" lengthAdjust="spacing">India</text>
<text transform="translate(834.00,542.31) scale(1,1.055)" font-size="17.07px" fill="#4d4d4d" textLength="45.94" lengthAdjust="spacing">Kenya</text>
<text transform="translate(55.09,564.80) scale(1,1.03)" font-size="17.07px" fill="#4d4d4d" text-anchor="middle">1995</text>
<text transform="translate(213.23,564.80) scale(1,1.03)" font-size="17.07px" fill="#4d4d4d" text-anchor="middle">2000</text>
<text transform="translate(371.36,564.80) scale(1,1.03)" font-size="17.07px" fill="#4d4d4d" text-anchor="middle">2005</text>
<text transform="translate(529.49,564.80) scale(1,1.03)" font-size="17.07px" fill="#4d4d4d" text-anchor="middle">2010</text>
<text transform="translate(687.63,564.80) scale(1,1.03)" font-size="17.07px" fill="#4d4d4d" text-anchor="middle">2015</text>
</svg>
</body></html>
